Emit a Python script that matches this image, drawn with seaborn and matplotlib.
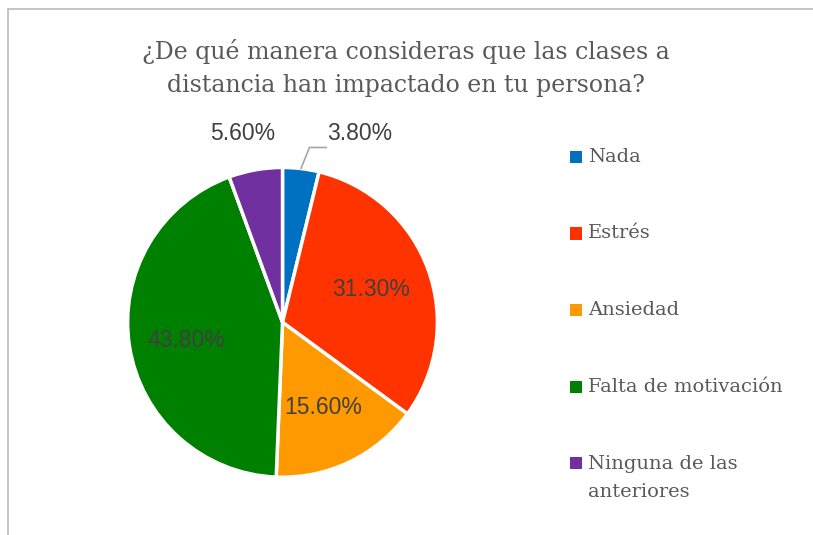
import matplotlib
matplotlib.use("Agg")
import matplotlib.pyplot as plt
import seaborn as sns
import numpy as np
from matplotlib.patches import Rectangle

categories = ["Nada", "Estrés", "Ansiedad", "Falta de motivación", "Ninguna de las\nanteriores"]
values = [3.8, 31.3, 15.6, 43.8, 5.6]
labels = ["3.80%", "31.30%", "15.60%", "43.80%", "5.60%"]
colors = ["#0070C0", "#FF3300", "#FF9900", "#008000", "#7030A0"]
title = "¿De qué manera consideras que las clases a\ndistancia han impactado en tu persona?"

sns.set_theme(style="white")
plt.rcParams["font.family"] = ["Liberation Sans", "DejaVu Sans"]

fig = plt.figure(figsize=(8.13, 5.35), dpi=100)
fig.patch.set_facecolor("white")

# chart border
fig.add_artist(Rectangle((8 / 813, -0.1), 1.2, 1 - 9 / 535 + 0.1, transform=fig.transFigure,
                         fill=False, edgecolor="#BFBFBF", linewidth=1.3))

ax = fig.add_axes([0.157, 0.108, 0.381, 0.579])
wedges, _ = ax.pie(values, colors=colors, startangle=90, counterclock=False, radius=1,
                   wedgeprops=dict(edgecolor="white", linewidth=2.5))
ax.set_xlim(-1, 1)
ax.set_ylim(-1, 1)
ax.set_aspect("equal")
ax.axis("off")

lab_color = "#404040"
fs = 16.5
serif = ["DejaVu Serif", "Liberation Serif"]
for i, (w, lab) in enumerate(zip(wedges, labels)):
    mid = np.deg2rad((w.theta1 + w.theta2) / 2)
    if i == 0:
        ex, ey = np.cos(mid), np.sin(mid)
        ax.plot([ex, 0.174, 0.284], [ey, 1.129, 1.129], color="#A6A6A6", lw=1.2, clip_on=False)
        ax.text(0.29, 1.22, lab, ha="left", va="center", fontsize=fs, color=lab_color)
    elif i == 4:
        ax.text(-0.26, 1.22, lab, ha="center", va="center", fontsize=fs, color=lab_color)
    else:
        r = 0.63 if i == 3 else 0.61
        ax.text(r * np.cos(mid), r * np.sin(mid) - (0.02 if i == 3 else 0), lab,
                ha="center", va="center", fontsize=fs, color=lab_color)

fig.text(406 / 813, 1 - 68 / 535, title, ha="center", va="center", fontsize=17,
         color="#595959", family=serif, linespacing=1.55)

# legend
y0 = 157
step = 76.5
for i, (cat, col) in enumerate(zip(categories, colors)):
    y = y0 + i * step
    fig.add_artist(Rectangle((570 / 813, 1 - (y + 6) / 535), 12 / 813, 12 / 535,
                             transform=fig.transFigure, facecolor=col, edgecolor="none"))
    yc = y + 15 if "\n" in cat else y
    fig.text(588 / 813, 1 - yc / 535, cat, ha="left", va="center",
             fontsize=14, color="#595959", family=serif, linespacing=1.65)

fig.savefig("out.png", dpi=100, facecolor="white")
